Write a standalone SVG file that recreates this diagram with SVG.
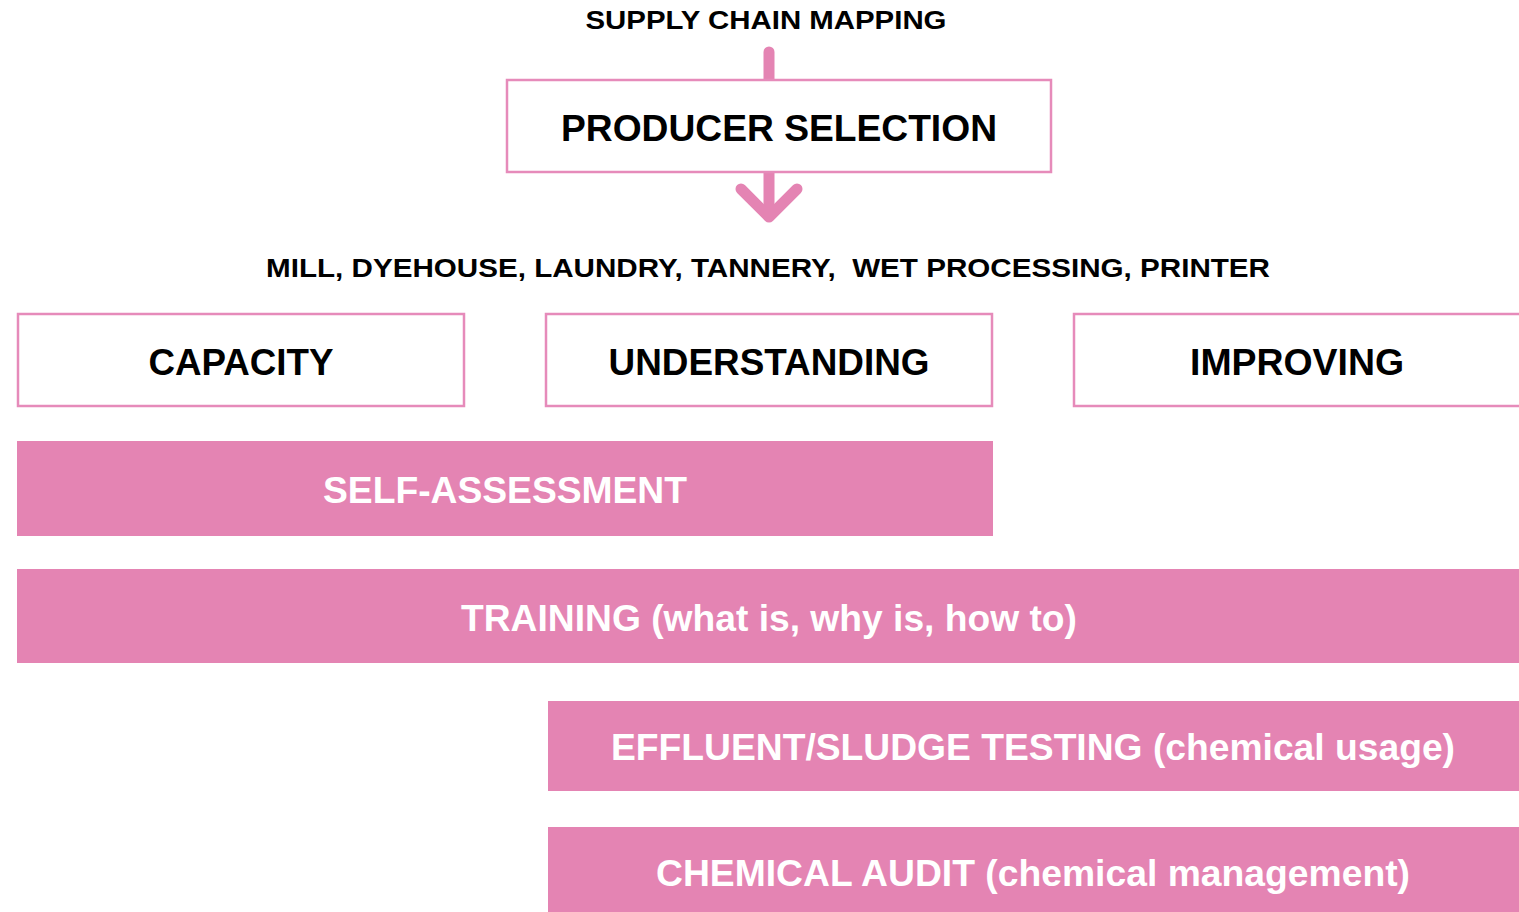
<svg xmlns="http://www.w3.org/2000/svg" width="1519" height="912" viewBox="0 0 1519 912">
<style>
text{font-family:"Liberation Sans",Arial,sans-serif;font-weight:bold;text-anchor:middle}
.ob{fill:#fff;stroke:#E68BBA;stroke-width:2.5}
.fb{fill:#E484B3}
.dk{fill:#000}
.wt{fill:#fff}
.con{stroke:#E484B3;stroke-width:11;stroke-linecap:round;stroke-linejoin:round;fill:none}
</style>
<rect width="1519" height="912" fill="#fff"/>
<g id="connectors">
<path class="con" d="M769,52 V80"/>
<path class="con" d="M769,173 V214"/>
<path class="con" d="M741,189 L769,217 L797,189"/>
</g>
<g id="supply-chain-mapping"><text class="dk" x="766" y="29" font-size="26" textLength="361" lengthAdjust="spacingAndGlyphs">SUPPLY CHAIN MAPPING</text></g>
<g id="producer-selection"><rect class="ob" x="507" y="80" width="544" height="92"/><text class="dk" x="779" y="141" font-size="36" textLength="436" lengthAdjust="spacingAndGlyphs">PRODUCER SELECTION</text></g>
<g id="facilities"><text class="dk" x="768" y="277" font-size="26" textLength="1004" lengthAdjust="spacingAndGlyphs" xml:space="preserve">MILL, DYEHOUSE, LAUNDRY, TANNERY,  WET PROCESSING, PRINTER</text></g>
<g id="capacity"><rect class="ob" x="18" y="314" width="446" height="92"/><text class="dk" x="241" y="375" font-size="36" textLength="185" lengthAdjust="spacingAndGlyphs">CAPACITY</text></g>
<g id="understanding"><rect class="ob" x="546" y="314" width="446" height="92"/><text class="dk" x="769" y="375" font-size="36" textLength="321" lengthAdjust="spacingAndGlyphs">UNDERSTANDING</text></g>
<g id="improving"><rect class="ob" x="1074" y="314" width="460" height="92"/><text class="dk" x="1297" y="375" font-size="36" textLength="214" lengthAdjust="spacingAndGlyphs">IMPROVING</text></g>
<g id="self-assessment"><rect class="fb" x="17" y="441" width="976" height="95"/><text class="wt" x="505" y="503" font-size="36" textLength="364" lengthAdjust="spacingAndGlyphs">SELF-ASSESSMENT</text></g>
<g id="training"><rect class="fb" x="17" y="569" width="1502" height="94"/><text class="wt" x="769" y="631" font-size="36" textLength="616" lengthAdjust="spacingAndGlyphs">TRAINING (what is, why is, how to)</text></g>
<g id="effluent"><rect class="fb" x="548" y="701" width="971" height="90"/><text class="wt" x="1033" y="760" font-size="36" textLength="844" lengthAdjust="spacingAndGlyphs">EFFLUENT/SLUDGE TESTING (chemical usage)</text></g>
<g id="chemical-audit"><rect class="fb" x="548" y="827" width="971" height="85"/><text class="wt" x="1033" y="886" font-size="36" textLength="754" lengthAdjust="spacingAndGlyphs">CHEMICAL AUDIT (chemical management)</text></g>
</svg>
